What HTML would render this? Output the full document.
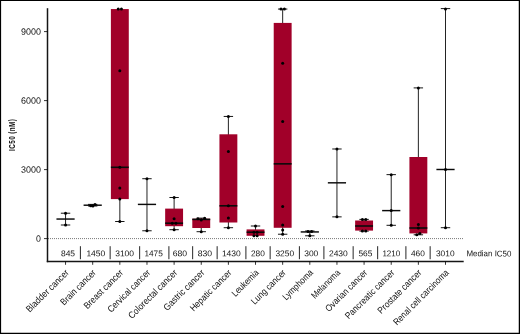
<!DOCTYPE html>
<html lang="en"><head><meta charset="utf-8"><title>IC50 box plot</title>
<style>html,body{margin:0;padding:0;background:#fff}body{width:520px;height:334px;overflow:hidden}svg{display:block}svg{will-change:transform}text{font-family:"Liberation Sans",sans-serif;fill:#111}</style></head><body>
<svg width="520" height="334" viewBox="0 0 520 334">
<rect x="0" y="0" width="520" height="334" fill="#fff"/>
<rect x="0" y="0" width="520" height="1.0" fill="#000"/><rect x="0" y="0" width="1.1" height="334" fill="#000"/><rect x="518.75" y="0" width="1.25" height="334" fill="#000"/><rect x="0" y="332.75" width="520" height="1.25" fill="#000"/>
<line x1="48" y1="238.6" x2="464" y2="238.6" stroke="#333" stroke-width="0.75" stroke-dasharray="0.9 1.1"/>
<g>
<line x1="65.55" y1="213.21" x2="65.55" y2="225.01" stroke="#0a0a0a" stroke-width="0.9"/>
<line x1="60.85" y1="213.21" x2="70.25" y2="213.21" stroke="#0a0a0a" stroke-width="0.95"/>
<line x1="60.85" y1="225.01" x2="70.25" y2="225.01" stroke="#0a0a0a" stroke-width="0.95"/>
<line x1="56.45" y1="219.05" x2="74.65" y2="219.05" stroke="#0a0a0a" stroke-width="1.45"/>
<circle cx="65.55" cy="213.21" r="1.5" fill="#000"/>
<circle cx="65.55" cy="225.01" r="1.5" fill="#000"/>
</g>
<g>
<line x1="92.69" y1="204.40" x2="92.69" y2="206.01" stroke="#0a0a0a" stroke-width="0.9"/>
<line x1="87.99" y1="204.40" x2="97.39" y2="204.40" stroke="#0a0a0a" stroke-width="0.95"/>
<line x1="87.99" y1="206.01" x2="97.39" y2="206.01" stroke="#0a0a0a" stroke-width="0.95"/>
<line x1="83.59" y1="205.20" x2="101.79" y2="205.20" stroke="#0a0a0a" stroke-width="1.45"/>
<circle cx="90.69" cy="205.71" r="1.5" fill="#000"/>
<circle cx="92.89" cy="206.01" r="1.5" fill="#000"/>
<circle cx="94.99" cy="204.40" r="1.5" fill="#000"/>
</g>
<g>
<line x1="119.83" y1="9.06" x2="119.83" y2="221.51" stroke="#0a0a0a" stroke-width="0.9"/>
<line x1="115.13" y1="221.51" x2="124.53" y2="221.51" stroke="#0a0a0a" stroke-width="0.95"/>
<rect x="110.88" y="9.06" width="17.9" height="190.05" fill="#a10029"/>
<line x1="110.88" y1="167.30" x2="128.78" y2="167.30" stroke="#0a0a0a" stroke-width="1.6"/>
<circle cx="118.23" cy="9.06" r="1.5" fill="#000"/>
<circle cx="121.43" cy="9.06" r="1.5" fill="#000"/>
<circle cx="119.83" cy="70.70" r="1.5" fill="#000"/>
<circle cx="119.83" cy="167.30" r="1.5" fill="#000"/>
<circle cx="119.83" cy="188.00" r="1.5" fill="#000"/>
<circle cx="119.83" cy="199.11" r="1.5" fill="#000"/>
<circle cx="119.83" cy="221.51" r="1.5" fill="#000"/>
</g>
<g>
<line x1="146.97" y1="178.71" x2="146.97" y2="230.78" stroke="#0a0a0a" stroke-width="0.9"/>
<line x1="142.27" y1="178.71" x2="151.67" y2="178.71" stroke="#0a0a0a" stroke-width="0.95"/>
<line x1="142.27" y1="230.78" x2="151.67" y2="230.78" stroke="#0a0a0a" stroke-width="0.95"/>
<line x1="137.87" y1="204.40" x2="156.07" y2="204.40" stroke="#0a0a0a" stroke-width="1.45"/>
<circle cx="146.97" cy="178.71" r="1.5" fill="#000"/>
<circle cx="146.97" cy="230.78" r="1.5" fill="#000"/>
</g>
<g>
<line x1="174.11" y1="197.50" x2="174.11" y2="229.70" stroke="#0a0a0a" stroke-width="0.9"/>
<line x1="169.41" y1="197.50" x2="178.81" y2="197.50" stroke="#0a0a0a" stroke-width="0.95"/>
<line x1="169.41" y1="229.70" x2="178.81" y2="229.70" stroke="#0a0a0a" stroke-width="0.95"/>
<rect x="165.16" y="208.61" width="17.9" height="17.59" fill="#a10029"/>
<line x1="165.16" y1="223.19" x2="183.06" y2="223.19" stroke="#0a0a0a" stroke-width="1.6"/>
<circle cx="174.11" cy="197.50" r="1.5" fill="#000"/>
<circle cx="174.11" cy="218.70" r="1.5" fill="#000"/>
<circle cx="172.31" cy="223.19" r="1.5" fill="#000"/>
<circle cx="175.91" cy="223.19" r="1.5" fill="#000"/>
<circle cx="174.11" cy="229.70" r="1.5" fill="#000"/>
</g>
<g>
<line x1="201.25" y1="218.13" x2="201.25" y2="231.70" stroke="#0a0a0a" stroke-width="0.9"/>
<line x1="196.55" y1="218.13" x2="205.95" y2="218.13" stroke="#0a0a0a" stroke-width="0.95"/>
<line x1="196.55" y1="231.70" x2="205.95" y2="231.70" stroke="#0a0a0a" stroke-width="0.95"/>
<rect x="192.30" y="218.70" width="17.9" height="9.31" fill="#a10029"/>
<line x1="192.30" y1="219.39" x2="210.20" y2="219.39" stroke="#0a0a0a" stroke-width="1.6"/>
<circle cx="197.95" cy="218.70" r="1.5" fill="#000"/>
<circle cx="201.25" cy="220.08" r="1.5" fill="#000"/>
<circle cx="204.65" cy="218.13" r="1.5" fill="#000"/>
<circle cx="201.25" cy="231.70" r="1.5" fill="#000"/>
</g>
<g>
<line x1="228.39" y1="116.45" x2="228.39" y2="227.70" stroke="#0a0a0a" stroke-width="0.9"/>
<line x1="223.69" y1="116.45" x2="233.09" y2="116.45" stroke="#0a0a0a" stroke-width="0.95"/>
<line x1="223.69" y1="227.70" x2="233.09" y2="227.70" stroke="#0a0a0a" stroke-width="0.95"/>
<rect x="219.44" y="134.30" width="17.9" height="88.20" fill="#a10029"/>
<line x1="219.44" y1="205.82" x2="237.34" y2="205.82" stroke="#0a0a0a" stroke-width="1.6"/>
<circle cx="228.39" cy="116.45" r="1.5" fill="#000"/>
<circle cx="228.39" cy="151.41" r="1.5" fill="#000"/>
<circle cx="228.39" cy="205.82" r="1.5" fill="#000"/>
<circle cx="228.39" cy="217.90" r="1.5" fill="#000"/>
<circle cx="228.39" cy="227.70" r="1.5" fill="#000"/>
</g>
<g>
<line x1="255.53" y1="226.00" x2="255.53" y2="235.79" stroke="#0a0a0a" stroke-width="0.9"/>
<line x1="250.83" y1="226.00" x2="260.23" y2="226.00" stroke="#0a0a0a" stroke-width="0.95"/>
<rect x="246.58" y="229.40" width="17.9" height="6.39" fill="#a10029"/>
<line x1="246.58" y1="232.21" x2="264.48" y2="232.21" stroke="#0a0a0a" stroke-width="1.6"/>
<circle cx="255.53" cy="226.00" r="1.5" fill="#000"/>
<circle cx="253.93" cy="232.21" r="1.5" fill="#000"/>
<circle cx="257.13" cy="232.21" r="1.5" fill="#000"/>
<circle cx="253.93" cy="235.79" r="1.5" fill="#000"/>
<circle cx="257.13" cy="235.79" r="1.5" fill="#000"/>
</g>
<g>
<line x1="282.67" y1="9.06" x2="282.67" y2="234.23" stroke="#0a0a0a" stroke-width="0.9"/>
<line x1="277.97" y1="9.06" x2="287.37" y2="9.06" stroke="#0a0a0a" stroke-width="0.95"/>
<line x1="277.97" y1="234.23" x2="287.37" y2="234.23" stroke="#0a0a0a" stroke-width="0.95"/>
<rect x="273.72" y="22.91" width="17.9" height="204.88" fill="#a10029"/>
<line x1="273.72" y1="163.85" x2="291.62" y2="163.85" stroke="#0a0a0a" stroke-width="1.6"/>
<circle cx="280.97" cy="9.06" r="1.5" fill="#000"/>
<circle cx="284.37" cy="9.06" r="1.5" fill="#000"/>
<circle cx="282.67" cy="63.29" r="1.5" fill="#000"/>
<circle cx="282.67" cy="121.48" r="1.5" fill="#000"/>
<circle cx="282.67" cy="206.49" r="1.5" fill="#000"/>
<circle cx="282.67" cy="224.91" r="1.5" fill="#000"/>
<circle cx="282.67" cy="229.91" r="1.5" fill="#000"/>
<circle cx="282.67" cy="234.23" r="1.5" fill="#000"/>
</g>
<g>
<line x1="309.81" y1="231.01" x2="309.81" y2="235.79" stroke="#0a0a0a" stroke-width="0.9"/>
<line x1="305.11" y1="231.01" x2="314.51" y2="231.01" stroke="#0a0a0a" stroke-width="0.95"/>
<line x1="305.11" y1="235.79" x2="314.51" y2="235.79" stroke="#0a0a0a" stroke-width="0.95"/>
<line x1="300.71" y1="231.93" x2="318.91" y2="231.93" stroke="#0a0a0a" stroke-width="1.45"/>
<circle cx="308.01" cy="231.40" r="1.5" fill="#000"/>
<circle cx="311.61" cy="231.40" r="1.5" fill="#000"/>
<circle cx="309.81" cy="235.79" r="1.5" fill="#000"/>
</g>
<g>
<line x1="336.95" y1="148.99" x2="336.95" y2="216.87" stroke="#0a0a0a" stroke-width="0.9"/>
<line x1="332.25" y1="148.99" x2="341.65" y2="148.99" stroke="#0a0a0a" stroke-width="0.95"/>
<line x1="332.25" y1="216.87" x2="341.65" y2="216.87" stroke="#0a0a0a" stroke-width="0.95"/>
<line x1="327.85" y1="182.82" x2="346.05" y2="182.82" stroke="#0a0a0a" stroke-width="1.45"/>
<circle cx="336.95" cy="148.99" r="1.5" fill="#000"/>
<circle cx="336.95" cy="216.87" r="1.5" fill="#000"/>
</g>
<g>
<line x1="364.09" y1="219.39" x2="364.09" y2="231.10" stroke="#0a0a0a" stroke-width="0.9"/>
<line x1="359.39" y1="219.39" x2="368.79" y2="219.39" stroke="#0a0a0a" stroke-width="0.95"/>
<line x1="359.39" y1="231.10" x2="368.79" y2="231.10" stroke="#0a0a0a" stroke-width="0.95"/>
<rect x="355.14" y="220.50" width="17.9" height="10.10" fill="#a10029"/>
<line x1="355.14" y1="226.00" x2="373.04" y2="226.00" stroke="#0a0a0a" stroke-width="1.6"/>
<circle cx="362.39" cy="219.39" r="1.5" fill="#000"/>
<circle cx="365.79" cy="219.39" r="1.5" fill="#000"/>
<circle cx="362.39" cy="231.10" r="1.5" fill="#000"/>
<circle cx="365.79" cy="231.10" r="1.5" fill="#000"/>
</g>
<g>
<line x1="391.23" y1="174.64" x2="391.23" y2="225.31" stroke="#0a0a0a" stroke-width="0.9"/>
<line x1="386.53" y1="174.64" x2="395.93" y2="174.64" stroke="#0a0a0a" stroke-width="0.95"/>
<line x1="386.53" y1="225.31" x2="395.93" y2="225.31" stroke="#0a0a0a" stroke-width="0.95"/>
<line x1="382.13" y1="210.61" x2="400.33" y2="210.61" stroke="#0a0a0a" stroke-width="1.45"/>
<circle cx="391.23" cy="174.64" r="1.5" fill="#000"/>
<circle cx="391.23" cy="210.61" r="1.5" fill="#000"/>
<circle cx="391.23" cy="225.31" r="1.5" fill="#000"/>
</g>
<g>
<line x1="418.37" y1="87.90" x2="418.37" y2="234.81" stroke="#0a0a0a" stroke-width="0.9"/>
<line x1="413.67" y1="87.90" x2="423.07" y2="87.90" stroke="#0a0a0a" stroke-width="0.95"/>
<line x1="413.67" y1="234.81" x2="423.07" y2="234.81" stroke="#0a0a0a" stroke-width="0.95"/>
<rect x="409.42" y="157.00" width="17.9" height="76.41" fill="#a10029"/>
<line x1="409.42" y1="228.00" x2="427.32" y2="228.00" stroke="#0a0a0a" stroke-width="1.6"/>
<circle cx="418.37" cy="87.90" r="1.5" fill="#000"/>
<circle cx="418.37" cy="224.41" r="1.5" fill="#000"/>
<circle cx="418.37" cy="228.00" r="1.5" fill="#000"/>
<circle cx="419.87" cy="233.40" r="1.5" fill="#000"/>
<circle cx="416.77" cy="234.81" r="1.5" fill="#000"/>
</g>
<g>
<line x1="445.51" y1="8.60" x2="445.51" y2="227.70" stroke="#0a0a0a" stroke-width="0.9"/>
<line x1="440.81" y1="8.60" x2="450.21" y2="8.60" stroke="#0a0a0a" stroke-width="0.95"/>
<line x1="440.81" y1="227.70" x2="450.21" y2="227.70" stroke="#0a0a0a" stroke-width="0.95"/>
<line x1="436.41" y1="169.49" x2="454.61" y2="169.49" stroke="#0a0a0a" stroke-width="1.45"/>
<circle cx="445.51" cy="9.06" r="1.5" fill="#000"/>
<circle cx="445.51" cy="169.49" r="1.5" fill="#000"/>
<circle cx="445.51" cy="227.70" r="1.5" fill="#000"/>
</g>
<line x1="47.5" y1="8.2" x2="47.5" y2="262.2" stroke="#151515" stroke-width="1.5"/>
<line x1="46.8" y1="261.5" x2="463.7" y2="261.5" stroke="#151515" stroke-width="1.5"/>
<line x1="44" y1="238.60" x2="47.5" y2="238.60" stroke="#000" stroke-width="0.8"/>
<text transform="translate(40.9 241.65) rotate(0.05)" font-size="9.2" text-anchor="end" textLength="4.9" lengthAdjust="spacingAndGlyphs">0</text>
<line x1="44" y1="169.60" x2="47.5" y2="169.60" stroke="#000" stroke-width="0.8"/>
<text transform="translate(40.9 172.65) rotate(0.05)" font-size="9.2" text-anchor="end" textLength="19.9" lengthAdjust="spacingAndGlyphs">3000</text>
<line x1="44" y1="100.60" x2="47.5" y2="100.60" stroke="#000" stroke-width="0.8"/>
<text transform="translate(40.9 103.65) rotate(0.05)" font-size="9.2" text-anchor="end" textLength="19.9" lengthAdjust="spacingAndGlyphs">6000</text>
<line x1="44" y1="31.60" x2="47.5" y2="31.60" stroke="#000" stroke-width="0.8"/>
<text transform="translate(40.9 34.65) rotate(0.05)" font-size="9.2" text-anchor="end" textLength="19.9" lengthAdjust="spacingAndGlyphs">9000</text>
<text transform="translate(14.7 151.0) rotate(-90) scale(0.7 1)" font-size="9.1" font-weight="bold" textLength="45.6" lengthAdjust="spacing">IC50 (nM)</text>
<line x1="65.55" y1="261.5" x2="65.55" y2="264.8" stroke="#000" stroke-width="0.8"/>
<line x1="92.69" y1="261.5" x2="92.69" y2="264.8" stroke="#000" stroke-width="0.8"/>
<line x1="119.83" y1="261.5" x2="119.83" y2="264.8" stroke="#000" stroke-width="0.8"/>
<line x1="146.97" y1="261.5" x2="146.97" y2="264.8" stroke="#000" stroke-width="0.8"/>
<line x1="174.11" y1="261.5" x2="174.11" y2="264.8" stroke="#000" stroke-width="0.8"/>
<line x1="201.25" y1="261.5" x2="201.25" y2="264.8" stroke="#000" stroke-width="0.8"/>
<line x1="228.39" y1="261.5" x2="228.39" y2="264.8" stroke="#000" stroke-width="0.8"/>
<line x1="255.53" y1="261.5" x2="255.53" y2="264.8" stroke="#000" stroke-width="0.8"/>
<line x1="282.67" y1="261.5" x2="282.67" y2="264.8" stroke="#000" stroke-width="0.8"/>
<line x1="309.81" y1="261.5" x2="309.81" y2="264.8" stroke="#000" stroke-width="0.8"/>
<line x1="336.95" y1="261.5" x2="336.95" y2="264.8" stroke="#000" stroke-width="0.8"/>
<line x1="364.09" y1="261.5" x2="364.09" y2="264.8" stroke="#000" stroke-width="0.8"/>
<line x1="391.23" y1="261.5" x2="391.23" y2="264.8" stroke="#000" stroke-width="0.8"/>
<line x1="418.37" y1="261.5" x2="418.37" y2="264.8" stroke="#000" stroke-width="0.8"/>
<line x1="445.51" y1="261.5" x2="445.51" y2="264.8" stroke="#000" stroke-width="0.8"/>
<line x1="80.4" y1="246.2" x2="80.4" y2="259.2" stroke="#1a1a1a" stroke-width="0.95"/>
<line x1="110.15" y1="246.2" x2="110.15" y2="259.2" stroke="#1a1a1a" stroke-width="0.95"/>
<line x1="139.65" y1="246.2" x2="139.65" y2="259.2" stroke="#1a1a1a" stroke-width="0.95"/>
<line x1="168.9" y1="246.2" x2="168.9" y2="259.2" stroke="#1a1a1a" stroke-width="0.95"/>
<line x1="192.65" y1="246.2" x2="192.65" y2="259.2" stroke="#1a1a1a" stroke-width="0.95"/>
<line x1="217.15" y1="246.2" x2="217.15" y2="259.2" stroke="#1a1a1a" stroke-width="0.95"/>
<line x1="245.9" y1="246.2" x2="245.9" y2="259.2" stroke="#1a1a1a" stroke-width="0.95"/>
<line x1="270.15" y1="246.2" x2="270.15" y2="259.2" stroke="#1a1a1a" stroke-width="0.95"/>
<line x1="299.4" y1="246.2" x2="299.4" y2="259.2" stroke="#1a1a1a" stroke-width="0.95"/>
<line x1="323.9" y1="246.2" x2="323.9" y2="259.2" stroke="#1a1a1a" stroke-width="0.95"/>
<line x1="353.15" y1="246.2" x2="353.15" y2="259.2" stroke="#1a1a1a" stroke-width="0.95"/>
<line x1="377.65" y1="246.2" x2="377.65" y2="259.2" stroke="#1a1a1a" stroke-width="0.95"/>
<line x1="405.9" y1="246.2" x2="405.9" y2="259.2" stroke="#1a1a1a" stroke-width="0.95"/>
<line x1="430.15" y1="246.2" x2="430.15" y2="259.2" stroke="#1a1a1a" stroke-width="0.95"/>
<text transform="translate(60.95 256.35) rotate(0.05)" font-size="8.35" textLength="14.10" lengthAdjust="spacingAndGlyphs">845</text>
<text transform="translate(86.40 256.35) rotate(0.05)" font-size="8.35" textLength="18.90" lengthAdjust="spacingAndGlyphs">1450</text>
<text transform="translate(115.20 256.35) rotate(0.05)" font-size="8.35" textLength="18.85" lengthAdjust="spacingAndGlyphs">3100</text>
<text transform="translate(144.40 256.35) rotate(0.05)" font-size="8.35" textLength="18.40" lengthAdjust="spacingAndGlyphs">1475</text>
<text transform="translate(172.70 256.35) rotate(0.05)" font-size="8.35" textLength="14.35" lengthAdjust="spacingAndGlyphs">680</text>
<text transform="translate(197.70 256.35) rotate(0.05)" font-size="8.35" textLength="14.35" lengthAdjust="spacingAndGlyphs">830</text>
<text transform="translate(221.90 256.35) rotate(0.05)" font-size="8.35" textLength="18.90" lengthAdjust="spacingAndGlyphs">1430</text>
<text transform="translate(250.95 256.35) rotate(0.05)" font-size="8.35" textLength="13.85" lengthAdjust="spacingAndGlyphs">280</text>
<text transform="translate(275.45 256.35) rotate(0.05)" font-size="8.35" textLength="18.60" lengthAdjust="spacingAndGlyphs">3250</text>
<text transform="translate(304.20 256.35) rotate(0.05)" font-size="8.35" textLength="14.10" lengthAdjust="spacingAndGlyphs">300</text>
<text transform="translate(328.95 256.35) rotate(0.05)" font-size="8.35" textLength="18.85" lengthAdjust="spacingAndGlyphs">2430</text>
<text transform="translate(358.45 256.35) rotate(0.05)" font-size="8.35" textLength="13.85" lengthAdjust="spacingAndGlyphs">565</text>
<text transform="translate(382.40 256.35) rotate(0.05)" font-size="8.35" textLength="17.90" lengthAdjust="spacingAndGlyphs">1210</text>
<text transform="translate(410.95 256.35) rotate(0.05)" font-size="8.35" textLength="13.85" lengthAdjust="spacingAndGlyphs">460</text>
<text transform="translate(435.95 256.35) rotate(0.05)" font-size="8.35" textLength="18.60" lengthAdjust="spacingAndGlyphs">3010</text>
<text transform="translate(466.4 256.35) rotate(0.05)" font-size="8.35" textLength="45" lengthAdjust="spacingAndGlyphs">Median IC50</text>
<text transform="translate(69.40 273.25) rotate(-45)" font-size="9.4" text-anchor="end" textLength="56.0" lengthAdjust="spacingAndGlyphs">Bladder cancer</text>
<text transform="translate(96.54 273.25) rotate(-45)" font-size="9.4" text-anchor="end" textLength="46.0" lengthAdjust="spacingAndGlyphs">Brain cancer</text>
<text transform="translate(123.68 273.25) rotate(-45)" font-size="9.4" text-anchor="end" textLength="51.3" lengthAdjust="spacingAndGlyphs">Breast cancer</text>
<text transform="translate(150.82 273.25) rotate(-45)" font-size="9.4" text-anchor="end" textLength="56.1" lengthAdjust="spacingAndGlyphs">Cervical cancer</text>
<text transform="translate(177.96 273.25) rotate(-45)" font-size="9.4" text-anchor="end" textLength="64.9" lengthAdjust="spacingAndGlyphs">Colorectal cancer</text>
<text transform="translate(205.10 273.25) rotate(-45)" font-size="9.4" text-anchor="end" textLength="53.6" lengthAdjust="spacingAndGlyphs">Gastric cancer</text>
<text transform="translate(232.24 273.25) rotate(-45)" font-size="9.4" text-anchor="end" textLength="54.6" lengthAdjust="spacingAndGlyphs">Hepatic cancer</text>
<text transform="translate(259.38 273.25) rotate(-45)" font-size="9.4" text-anchor="end" textLength="33.8" lengthAdjust="spacingAndGlyphs">Leukemia</text>
<text transform="translate(286.52 273.25) rotate(-45)" font-size="9.4" text-anchor="end" textLength="44.8" lengthAdjust="spacingAndGlyphs">Lung cancer</text>
<text transform="translate(313.66 273.25) rotate(-45)" font-size="9.4" text-anchor="end" textLength="38.9" lengthAdjust="spacingAndGlyphs">Lymphoma</text>
<text transform="translate(340.80 273.25) rotate(-45)" font-size="9.4" text-anchor="end" textLength="36.6" lengthAdjust="spacingAndGlyphs">Melanoma</text>
<text transform="translate(367.94 273.25) rotate(-45)" font-size="9.4" text-anchor="end" textLength="55.1" lengthAdjust="spacingAndGlyphs">Ovarian cancer</text>
<text transform="translate(395.08 273.25) rotate(-45)" font-size="9.4" text-anchor="end" textLength="65.5" lengthAdjust="spacingAndGlyphs">Pancreatic cancer</text>
<text transform="translate(422.22 273.25) rotate(-45)" font-size="9.4" text-anchor="end" textLength="57.9" lengthAdjust="spacingAndGlyphs">Prostate cancer</text>
<text transform="translate(449.36 273.25) rotate(-45)" font-size="9.4" text-anchor="end" textLength="74.2" lengthAdjust="spacingAndGlyphs">Renal cell carcinoma</text>
</svg></body></html>
